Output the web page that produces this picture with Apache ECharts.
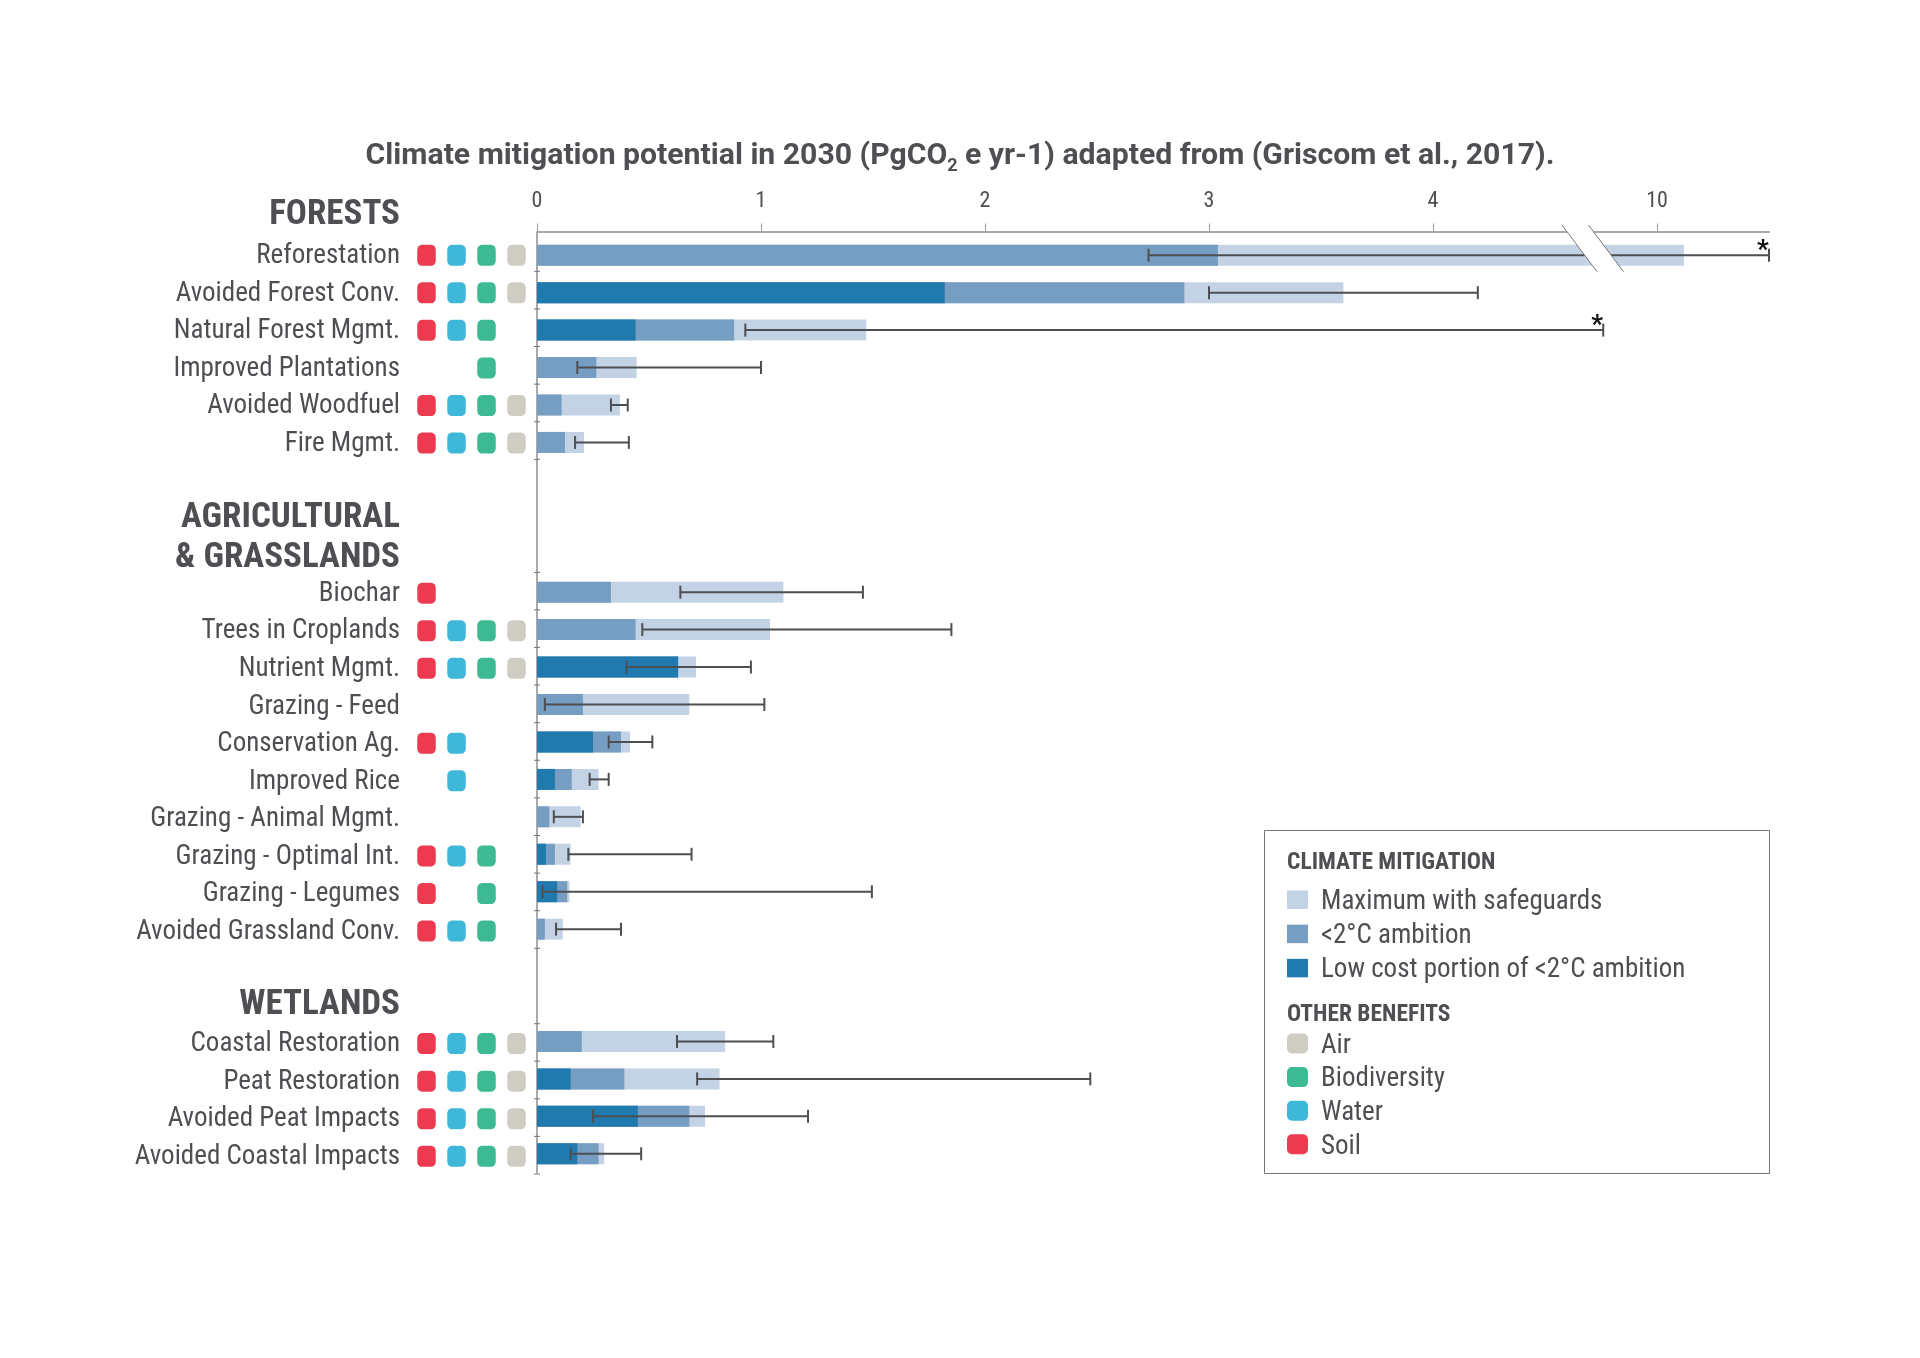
<!DOCTYPE html>
<html>
<head>
<meta charset="utf-8">
<title>Climate mitigation potential</title>
<script src="https://cdn.jsdelivr.net/npm/echarts@6/dist/echarts.min.js"></script>
<style>
  html, body { margin: 0; padding: 0; background: #fff; }
  #chart { width: 1920px; height: 1358px; }
</style>
</head>
<body>
<div id="chart"></div>
<script>
/* =================================
   数据
================================= */

var TEXT = "#4d4f53";
var NARROW = "'Liberation Sans Narrow', 'Roboto Condensed', Roboto, sans-serif";

var S = "Soil", W = "Water", B = "Biodiversity", A = "Air";

// null = blank row between the groups
var rows = [
  { name: "Reforestation",         low: null, amb: 3.04,  max: 10.12, lo: 2.73,  hi: 10.5,  star: true, benefits: [S, W, B, A] },
  { name: "Avoided Forest Conv.",  low: 1.82, amb: 2.89,  max: 3.6,   lo: 3.0,   hi: 4.2,   benefits: [S, W, B, A] },
  { name: "Natural Forest Mgmt.",  low: 0.44, amb: 0.88,  max: 1.47,  lo: 0.93,  hi: 4.76,  star: true, benefits: [S, W, B] },
  { name: "Improved Plantations",  low: null, amb: 0.265, max: 0.445, lo: 0.18,  hi: 1.0,   benefits: [B] },
  { name: "Avoided Woodfuel",      low: null, amb: 0.11,  max: 0.37,  lo: 0.33,  hi: 0.405, benefits: [S, W, B, A] },
  { name: "Fire Mgmt.",            low: null, amb: 0.125, max: 0.21,  lo: 0.17,  hi: 0.41,  benefits: [S, W, B, A] },
  null, null, null,
  { name: "Biochar",               low: null, amb: 0.33,  max: 1.1,   lo: 0.64,  hi: 1.455, benefits: [S] },
  { name: "Trees in Croplands",    low: null, amb: 0.44,  max: 1.04,  lo: 0.47,  hi: 1.85,  benefits: [S, W, B, A] },
  { name: "Nutrient Mgmt.",        low: 0.63, amb: 0.63,  max: 0.71,  lo: 0.4,   hi: 0.955, benefits: [S, W, B, A] },
  { name: "Grazing - Feed",        low: null, amb: 0.205, max: 0.68,  lo: 0.035, hi: 1.015, benefits: [] },
  { name: "Conservation Ag.",      low: 0.25, amb: 0.375, max: 0.415, lo: 0.32,  hi: 0.515, benefits: [S, W] },
  { name: "Improved Rice",         low: 0.08, amb: 0.155, max: 0.275, lo: 0.235, hi: 0.32,  benefits: [W] },
  { name: "Grazing - Animal Mgmt.", low: null, amb: 0.055, max: 0.195, lo: 0.075, hi: 0.205, benefits: [] },
  { name: "Grazing - Optimal Int.", low: 0.04, amb: 0.08, max: 0.15,  lo: 0.14,  hi: 0.69,  benefits: [S, W, B] },
  { name: "Grazing - Legumes",     low: 0.09, amb: 0.135, max: 0.145, lo: 0.025, hi: 1.495, benefits: [S, B] },
  { name: "Avoided Grassland Conv.", low: null, amb: 0.035, max: 0.115, lo: 0.085, hi: 0.375, benefits: [S, W, B] },
  null, null,
  { name: "Coastal Restoration",   low: null, amb: 0.2,   max: 0.84,  lo: 0.625, hi: 1.055, benefits: [S, W, B, A] },
  { name: "Peat Restoration",      low: 0.15, amb: 0.39,  max: 0.815, lo: 0.715, hi: 2.47,  benefits: [S, W, B, A] },
  { name: "Avoided Peat Impacts",  low: 0.45, amb: 0.68,  max: 0.75,  lo: 0.25,  hi: 1.21,  benefits: [S, W, B, A] },
  { name: "Avoided Coastal Impacts", low: 0.18, amb: 0.275, max: 0.3, lo: 0.15,  hi: 0.465, benefits: [S, W, B, A] }
];

var benefitColors = { Air: "#cfcdc3", Biodiversity: "#3dba93", Water: "#3fb7d8", Soil: "#ec3b50" };

var names = rows.map(function(r) { return r ? r.name : ""; });

function pick(key) {
  return rows.map(function(r) { return r ? r[key] : null; });
}

function benefitData(benefit) {
  var out = [];
  rows.forEach(function(r, i) {
    if (r && r.benefits.indexOf(benefit) >= 0) out.push([benefit, i]);
  });
  return out;
}

// small ticks across the y axis: under each row, above the first of a group
var tickData = [];
rows.forEach(function(r, i) {
  if (!r) return;
  tickData.push([i, 0.5]);
  if (i > 0 && !rows[i - 1]) tickData.push([i, -0.5]);
});

var errorData = [];
rows.forEach(function(r, i) {
  if (r) errorData.push([i, r.lo, r.hi, r.star ? 1 : 0]);
});

/* =================================
   图表
================================= */

function renderError(params, api) {
  var y = api.value(0);
  var a = api.coord([api.value(1), y]);
  var b = api.coord([api.value(2), y]);
  var line = { stroke: TEXT, lineWidth: 2 };
  var kids = [
    { type: "line", shape: { x1: a[0], y1: a[1], x2: b[0], y2: b[1] }, style: line },
    { type: "line", shape: { x1: a[0], y1: a[1] - 6.5, x2: a[0], y2: a[1] + 6.5 }, style: line },
    { type: "line", shape: { x1: b[0], y1: b[1] - 6.5, x2: b[0], y2: b[1] + 6.5 }, style: line }
  ];
  if (api.value(3)) {
    kids.push({
      type: "text",
      style: { text: "*", x: b[0] - 6, y: b[1] - 3.5, fill: "#111", font: "bold 26px Roboto", align: "center", verticalAlign: "middle" }
    });
  }
  return { type: "group", children: kids };
}

function renderTick(params, api) {
  var k = api.value(0);
  var p = api.coord([0, k]);
  var h = api.size([0, 1])[1];
  // the ticks in the picture run on a slightly wider spacing than the bars
  var y = p[1] + api.value(1) * h - 2.6 + 0.17 * k;
  return {
    type: "line",
    shape: { x1: p[0] - 3, y1: y, x2: p[0] + 3, y2: y },
    style: { stroke: "#777", lineWidth: 1 }
  };
}

function heading(text, y) {
  return {
    type: "text", z: 60, x: 400, y: y,
    style: { text: text, fill: TEXT, font: "bold 35px " + NARROW, align: "right", verticalAlign: "middle" }
  };
}

function legendHeading(text, y) {
  return {
    type: "text", z: 60, x: 1287, y: y,
    style: { text: text, fill: TEXT, font: "bold 23.5px " + NARROW, align: "left", verticalAlign: "middle" }
  };
}

function breakMark(x) {
  return { type: "line", z: 51, shape: { x1: x, y1: 225, x2: x + 35, y2: 271.7 }, style: { stroke: "#777", lineWidth: 1 } };
}

var legendBase = {
  orient: "vertical",
  left: 1287,
  padding: 0,
  itemWidth: 21,
  selectedMode: false,
  formatter: "{a|{name}}",
  textStyle: {
    rich: { a: { color: TEXT, fontFamily: NARROW, fontSize: 27, padding: [5, 0, 0, 8] } }
  }
};

function withBase(o) {
  return Object.assign({}, legendBase, o);
}

var gridTop = 236.5, gridHeight = 936;

var option = {
  animation: false,
  backgroundColor: "#fff",
  title: {
    text: "{t|Climate mitigation potential in 2030 (PgCO}{s|2}{t| e yr-1) adapted from (Griscom et al., 2017).}",
    left: "center",
    top: 132,
    textStyle: {
      rich: {
        t: { fontFamily: "Roboto", fontWeight: "bold", fontSize: 30.2, color: TEXT },
        s: { fontFamily: "Roboto", fontWeight: "bold", fontSize: 18, color: TEXT, padding: [20, 0, 0, 0] }
      }
    }
  },
  legend: [
    withBase({
      top: 888.7,
      itemHeight: 18.5,
      itemGap: 7.2,
      icon: "rect",
      data: ["Maximum with safeguards", "<2°C ambition", "Low cost portion of <2°C ambition"]
    }),
    withBase({
      top: 1032.5,
      itemHeight: 20,
      itemGap: 6.6,
      icon: "roundRect",
      data: [A, B, W, S]
    })
  ],
  grid: [
    { left: 537, top: gridTop, width: 1232, height: gridHeight },
    { left: 411.5, top: gridTop, width: 120, height: gridHeight + 2.5 }
  ],
  xAxis: [
    {
      type: "value",
      gridIndex: 0,
      position: "top",
      offset: 5,
      min: 0,
      max: 10.5,
      breaks: [{ start: 4.8, end: 9.8, gap: 0 }],
      breakArea: { show: false },
      splitLine: { show: false },
      axisLine: { show: true, lineStyle: { color: "#aaa", width: 2 } },
      axisTick: { show: true, length: 8, lineStyle: { color: "#999", width: 1 }, customValues: [0, 1, 2, 3, 4, 10] },
      axisLabel: { color: TEXT, fontFamily: NARROW, fontSize: 22, margin: 19, customValues: [0, 1, 2, 3, 4, 10] }
    },
    {
      type: "category",
      gridIndex: 1,
      data: [S, W, B, A],
      show: false
    }
  ],
  yAxis: [
    {
      type: "category",
      gridIndex: 0,
      inverse: true,
      data: names,
      axisLine: { show: true, lineStyle: { color: "#aaa", width: 2 } },
      axisTick: { show: false },
      axisLabel: { show: false }
    },
    {
      type: "category",
      gridIndex: 1,
      inverse: true,
      data: names,
      axisLine: { show: false },
      axisTick: { show: false },
      axisLabel: {
        interval: 0,
        margin: 11.5,
        align: "right",
        formatter: function(v) { return v ? "{l|" + v + "}" : ""; },
        rich: { l: { color: TEXT, fontFamily: NARROW, fontSize: 27, padding: [2, 0, 0, 0] } }
      }
    }
  ],
  series: [
    { name: "Maximum with safeguards", type: "bar", barWidth: 21, barGap: "-100%", data: pick("max"), itemStyle: { color: "#c4d2e5" } },
    { name: "<2°C ambition", type: "bar", barWidth: 21, barGap: "-100%", data: pick("amb"), itemStyle: { color: "#769dc2" } },
    { name: "Low cost portion of <2°C ambition", type: "bar", barWidth: 21, barGap: "-100%", data: pick("low"), itemStyle: { color: "#217aae" } },
    { type: "custom", renderItem: renderError, data: errorData, encode: { x: [1, 2], y: 0 }, z: 5, clip: false, silent: true },
    { type: "custom", renderItem: renderTick, data: tickData, encode: { y: 0 }, z: 4, clip: false, silent: true },
    { name: A, type: "scatter", xAxisIndex: 1, yAxisIndex: 1, symbol: "roundRect", symbolSize: [18.5, 21], data: benefitData(A), itemStyle: { color: benefitColors.Air, opacity: 1 } },
    { name: B, type: "scatter", xAxisIndex: 1, yAxisIndex: 1, symbol: "roundRect", symbolSize: [18.5, 21], data: benefitData(B), itemStyle: { color: benefitColors.Biodiversity, opacity: 1 } },
    { name: W, type: "scatter", xAxisIndex: 1, yAxisIndex: 1, symbol: "roundRect", symbolSize: [18.5, 21], data: benefitData(W), itemStyle: { color: benefitColors.Water, opacity: 1 } },
    { name: S, type: "scatter", xAxisIndex: 1, yAxisIndex: 1, symbol: "roundRect", symbolSize: [18.5, 21], data: benefitData(S), itemStyle: { color: benefitColors.Soil, opacity: 1 } }
  ],
  graphic: [
    heading("FORESTS", 215.5),
    heading("AGRICULTURAL", 518),
    heading("& GRASSLANDS", 558.5),
    heading("WETLANDS", 1005.5),
    legendHeading("CLIMATE MITIGATION", 863.5),
    legendHeading("OTHER BENEFITS", 1015.5),
    {
      type: "rect", z: 1, shape: { x: 1264.5, y: 830.5, width: 505, height: 343 },
      style: { fill: "none", stroke: "#777", lineWidth: 1 }
    },
    // short stretch of the y axis up to the x axis line
    { type: "line", z: 3, shape: { x1: 537, y1: 232, x2: 537, y2: 237 }, style: { stroke: "#aaa", lineWidth: 2 } },
    // axis break over the first row
    {
      type: "polygon", z: 50,
      shape: { points: [[1562, 225], [1588.5, 225], [1623.5, 271.7], [1597, 271.7]] },
      style: { fill: "#fff" }
    },
    breakMark(1562),
    breakMark(1588.5)
  ]
};

var chart = echarts.init(document.getElementById("chart"), null, { renderer: "canvas" });
chart.setOption(option);
</script>
</body>
</html>
